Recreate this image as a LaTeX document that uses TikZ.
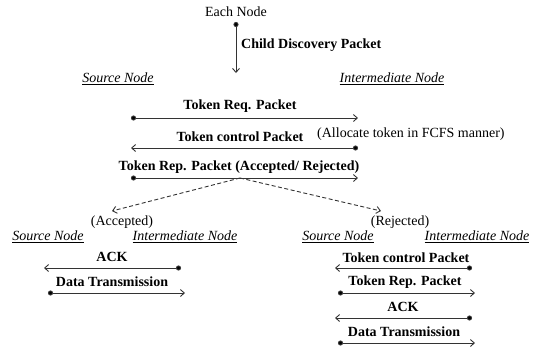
\documentclass[tikz,border=0pt]{standalone}
\usepackage{fontspec}
\setmainfont{Liberation Serif}
\usetikzlibrary{arrows.meta}
\tikzset{lbl/.style={font=\fontsize{14}{16}\selectfont\bfseries,inner sep=1pt},
 nd/.style={font=\fontsize{14}{16}\selectfont\itshape,inner sep=1pt},
 note/.style={font=\fontsize{14}{16}\selectfont,inner sep=1pt},
 msg/.style={line width=.9pt,draw=black!80,{Circle[length=5pt,width=5pt,fill=black]}-{Straight Barb[length=4pt,width=7pt]}},
 dec/.style={line width=.9pt,draw=black!80,dash pattern=on 4pt off 2.5pt,-{Straight Barb[length=4pt,width=7pt]}}}
\newcommand{\ul}[1]{\underline{#1}}
\begin{document}
\begin{tikzpicture}[x=1pt,y=-1pt]
\useasboundingbox (0,0) rectangle (545,349);
% discovery
\node[note] (each) at (236,12) {Each Node};
\coordinate (d0) at (236,22);
\coordinate (d1) at (236,73);
\draw[msg] (d0) -- (d1);
\node[lbl,anchor=west] (cdp) at (240,45) {Child Discovery Packet};
\node[nd] (src) at (118,79) {\ul{Source Node}};
\node[nd] (imd) at (392,79) {\ul{Intermediate Node}};
% token exchange
\coordinate (s1) at (131,118); \coordinate (i1) at (358,118);
\coordinate (s2) at (131,148); \coordinate (i2) at (358,148);
\coordinate (s3) at (131,178); \coordinate (i3) at (358,178);
\node[lbl] (treq) at (240,106) {Token Req. Packet};
\node[lbl] (tctl) at (240,137) {Token control Packet};
\node[note,anchor=west] (fcfs) at (316,134) {(Allocate token in FCFS manner)};
\node[lbl] (trep) at (239,167) {Token Rep. Packet (Accepted/ Rejected)};
\draw[msg] (s1) -- (i1);
\draw[msg] (i2) -- (s2);
\draw[msg] (s3) -- (i3);
% decision
\coordinate (mid) at (240,178);
\coordinate (acc) at (112,211);
\coordinate (rej) at (381,211);
\draw[dec] (mid) -- (acc);
\draw[dec] (mid) -- (rej);
\node[note] (accl) at (122,222) {(Accepted)};
\node[note] (rejl) at (400,222) {(Rejected)};
% accepted case
\node[nd] (srcA) at (48,237) {\ul{Source Node}};
\node[nd] (imdA) at (185,237) {\ul{Intermediate Node}};
\node[lbl] (ackA) at (112,257) {ACK};
\node[lbl] (dtA) at (112,282) {Data Transmission};
\coordinate (a1) at (44,268); \coordinate (b1) at (181,268);
\coordinate (a2) at (48,293); \coordinate (b2) at (185,293);
\draw[msg] (b1) -- (a1);
\draw[msg] (a2) -- (b2);
% rejected case
\node[nd] (srcR) at (338,237) {\ul{Source Node}};
\node[nd] (imdR) at (477,237) {\ul{Intermediate Node}};
\node[lbl] (tctlR) at (406,258) {Token control Packet};
\node[lbl] (trepR) at (405,282) {Token Rep. Packet};
\node[lbl] (ackR) at (403,307) {ACK};
\node[lbl] (dtR) at (404,332) {Data Transmission};
\coordinate (p1) at (335,268); \coordinate (q1) at (472,268);
\coordinate (p2) at (338,293); \coordinate (q2) at (475,293);
\coordinate (p3) at (335,318); \coordinate (q3) at (472,318);
\coordinate (p4) at (338,343); \coordinate (q4) at (475,343);
\draw[msg] (q1) -- (p1);
\draw[msg] (p2) -- (q2);
\draw[msg] (q3) -- (p3);
\draw[msg] (p4) -- (q4);
\end{tikzpicture}
\end{document}
